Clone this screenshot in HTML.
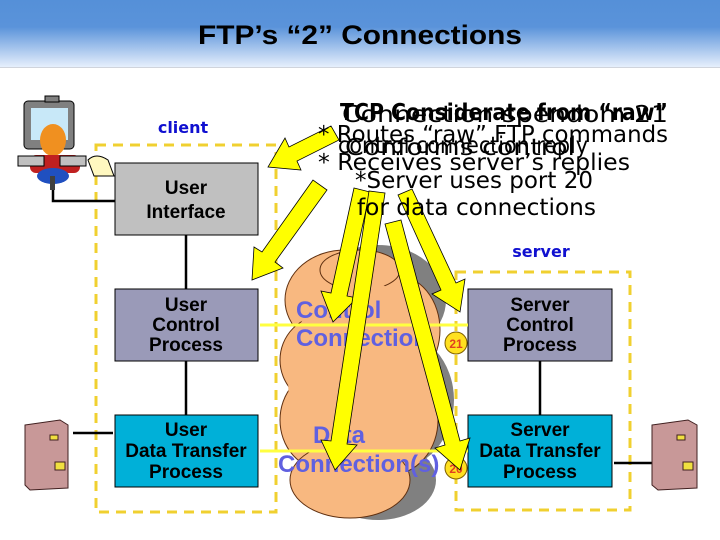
<!DOCTYPE html>
<html><head><meta charset="utf-8"><style>
body{margin:0;width:720px;height:540px;overflow:hidden;background:#fff;font-family:"Liberation Sans",sans-serif}
</style></head><body>
<svg width="720" height="540" viewBox="0 0 720 540" xmlns="http://www.w3.org/2000/svg" style="position:absolute;left:0;top:0">
<defs>
<linearGradient id="tg" x1="0" y1="0" x2="0" y2="1">
<stop offset="0" stop-color="#5590d8"/><stop offset="0.4" stop-color="#5a93da"/><stop offset="1" stop-color="#e6effc"/>
</linearGradient>
</defs>
<rect x="0" y="0" width="720" height="67" fill="url(#tg)"/>
<line x1="0" y1="67.5" x2="720" y2="67.5" stroke="#d0d4dc"/>
<text x="360" y="44" text-anchor="middle" font-size="27" font-weight="bold" fill="#000" textLength="324" lengthAdjust="spacingAndGlyphs">FTP’s “2” Connections</text>

<!-- dashed boxes -->
<rect x="96" y="145" width="180" height="367" fill="none" stroke="#f0d030" stroke-width="3" stroke-dasharray="10,7"/>
<rect x="456" y="272" width="174" height="238" fill="none" stroke="#f0d030" stroke-width="3" stroke-dasharray="10,7"/>

<text x="183" y="133" text-anchor="middle" font-size="16" font-weight="bold" fill="#1010d0" font-family="DejaVu Sans, sans-serif">client</text>
<text x="541" y="257" text-anchor="middle" font-size="16" font-weight="bold" fill="#1010d0" font-family="DejaVu Sans, sans-serif">server</text>

<!-- cloud -->
<g fill="#808080">
<ellipse cx="378" cy="300" rx="68" ry="55"/><ellipse cx="392" cy="400" rx="62" ry="70"/><ellipse cx="378" cy="480" rx="58" ry="40"/>
</g>
<g fill="#f8b880" stroke="#603010" stroke-width="1">
<ellipse cx="345" cy="300" rx="60" ry="50"/><ellipse cx="325" cy="360" rx="45" ry="45"/><ellipse cx="395" cy="330" rx="45" ry="55"/>
<ellipse cx="325" cy="420" rx="45" ry="50"/><ellipse cx="390" cy="420" rx="48" ry="55"/><ellipse cx="350" cy="480" rx="60" ry="38"/>
<ellipse cx="360" cy="270" rx="40" ry="20"/>
</g>
<g fill="#f8b880">
<ellipse cx="360" cy="380" rx="72" ry="100"/>
</g>

<!-- process boxes -->
<rect x="115" y="163" width="143" height="72" fill="#c0c0c0" stroke="#000"/>
<rect x="115" y="289" width="143" height="72" fill="#9a9ab8" stroke="#000"/>
<rect x="115" y="415" width="143" height="72" fill="#00b0d8" stroke="#000"/>
<rect x="468" y="289" width="144" height="72" fill="#9a9ab8" stroke="#000"/>
<rect x="468" y="415" width="144" height="72" fill="#00b0d8" stroke="#000"/>
<g font-size="19" font-weight="bold" text-anchor="middle" fill="#000">
<text x="186" y="194">User</text><text x="186" y="218">Interface</text>
<text x="186" y="311">User</text><text x="186" y="331">Control</text><text x="186" y="351">Process</text>
<text x="186" y="436">User</text><text x="186" y="457">Data Transfer</text><text x="186" y="478">Process</text>
<text x="540" y="311">Server</text><text x="540" y="331">Control</text><text x="540" y="351">Process</text>
<text x="540" y="436">Server</text><text x="540" y="457">Data Transfer</text><text x="540" y="478">Process</text>
</g>

<!-- black connectors -->
<g stroke="#000" stroke-width="2.5">
<line x1="186" y1="235" x2="186" y2="289"/><line x1="186" y1="361" x2="186" y2="415"/>
<line x1="540" y1="361" x2="540" y2="415"/>
<polyline points="53,183 53,201 115,201" fill="none"/>
<line x1="73" y1="433" x2="113" y2="433"/><line x1="614" y1="463" x2="652" y2="463"/>
</g>

<!-- yellow connection lines -->
<g stroke="#ffff40" stroke-width="3">
<line x1="260" y1="325" x2="468" y2="325"/><line x1="260" y1="451" x2="468" y2="451"/>
</g>

<!-- cloud labels -->
<g font-size="24" font-weight="bold" fill="#6060e0">
<text x="296" y="318">Control</text><text x="296" y="346">Connection</text>
<text x="313" y="443">Data</text><text x="278" y="472">Connection(s)</text>
</g>
<circle cx="456" cy="343" r="11" fill="#ffe020" stroke="#806000"/>
<text x="456" y="348" text-anchor="middle" font-size="12" font-weight="bold" fill="#e04020">21</text>
<circle cx="456" cy="468" r="11" fill="#ffe020" stroke="#806000"/>
<text x="456" y="473" text-anchor="middle" font-size="12" font-weight="bold" fill="#e04020">20</text>

<!-- yellow arrows -->
<g fill="#ffff00" stroke="#000" stroke-width="0.8">
<polygon points="331,126 289,147 285,138 268,167 301,170 297,161 339,140"/>
<polygon points="313,180 262,252 254,247 252,280 283,268 275,262 327,190"/>
<polygon points="354,188 331,293 321,291 333,322 357,298 347,296 370,192"/>
<polygon points="369,191 331,441 321,440 335,470 357,445 347,444 385,193"/>
<polygon points="385,224 445,445 435,448 460,470 470,438 460,441 401,220"/>
<polygon points="398,195 441,290 432,294 460,312 465,279 456,283 412,189"/>
</g>

<!-- overlapping text -->
<g font-family="DejaVu Sans, sans-serif" font-size="23" fill="#000">
<text x="340" y="120" font-weight="bold" textLength="328" lengthAdjust="spacingAndGlyphs">TCP Considerate from “raw”</text>
<text x="342" y="122" textLength="326" lengthAdjust="spacingAndGlyphs">Connection spendom 21</text>
<text x="318" y="142" textLength="350" lengthAdjust="spacingAndGlyphs">* Routes “raw” FTP commands</text>
<text x="338" y="153" textLength="250" lengthAdjust="spacingAndGlyphs">control connection reply</text>
<text x="345" y="155" textLength="230" lengthAdjust="spacingAndGlyphs">Conforms control</text>
<text x="318" y="170" textLength="312" lengthAdjust="spacingAndGlyphs">* Receives server’s replies</text>
<text x="355" y="188" textLength="238" lengthAdjust="spacingAndGlyphs">*Server uses port 20</text>
<text x="357" y="215" textLength="239" lengthAdjust="spacingAndGlyphs">for data connections</text>
</g>

<!-- user icon -->
<rect x="24" y="101" width="50" height="48" rx="4" fill="#808080" stroke="#000"/>
<rect x="31" y="108" width="37" height="32" fill="#c8e8f8"/>
<rect x="45" y="96" width="14" height="6" fill="#808080" stroke="#000"/>
<ellipse cx="53" cy="140" rx="13" ry="16" fill="#f09020"/>
<rect x="30" y="155" width="50" height="18" rx="6" fill="#c02020"/>
<rect x="18" y="156" width="26" height="10" fill="#c0c0c0" stroke="#000"/>
<rect x="60" y="156" width="26" height="10" fill="#c0c0c0" stroke="#000"/>
<ellipse cx="53" cy="176" rx="16" ry="8" fill="#2050c0"/>
<rect x="50" y="176" width="5" height="14" fill="#404040"/>
<path d="M88,160 q8,-8 20,0 l6,16 h-20 z" fill="#fff8c0" stroke="#000"/>

<!-- file cabinets -->
<g stroke="#402020" stroke-width="1">
<polygon points="25,425 60,420 68,425 68,488 30,490 25,485" fill="#c89898"/>
<rect x="50" y="435" width="8" height="5" fill="#f0e040"/>
<rect x="55" y="462" width="10" height="8" fill="#f0e040"/>
<polygon points="652,425 688,420 697,425 697,488 658,490 652,485" fill="#c89898"/>
<rect x="677" y="435" width="8" height="5" fill="#f0e040"/>
<rect x="683" y="462" width="10" height="8" fill="#f0e040"/>
</g>
</svg>
</body></html>
